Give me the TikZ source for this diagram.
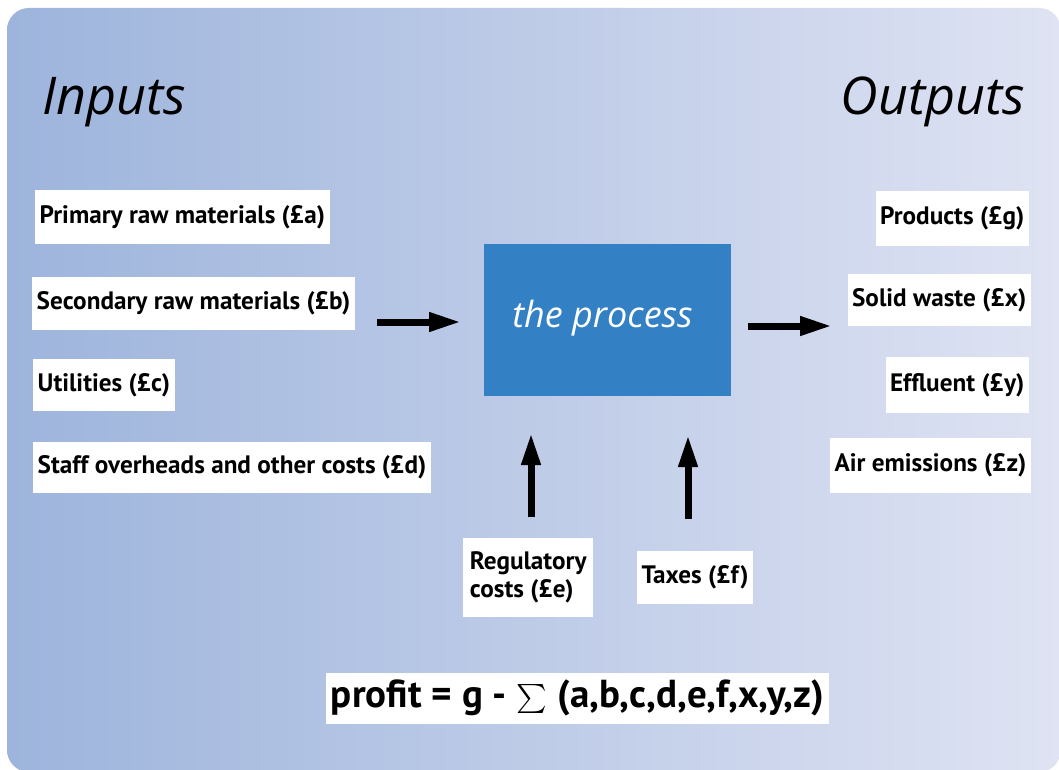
\documentclass[tikz,border=0pt]{standalone}
\usepackage{fontspec}
\setmainfont{PT Sans}
\newfontfamily\headfont{Open Sans}
\usetikzlibrary{positioning}
\usetikzlibrary{calc}
\usetikzlibrary{arrows.meta}

\definecolor{bgleft}{RGB}{157,180,220}
\definecolor{bgright}{RGB}{223,227,243}
\definecolor{procblue}{RGB}{51,129,196}

\begin{document}
\begin{tikzpicture}[x=1pt,y=-1pt,
  costbox/.style={fill=white,inner xsep=4.5pt,inner ysep=0pt,font=\fontsize{25.2}{28}\selectfont\bfseries},
  heading/.style={inner sep=0pt,font=\headfont\itshape\fontsize{52}{60}\selectfont},
  fat/.style={line width=7pt,-{Triangle[length=32pt,width=18pt]}}]
\useasboundingbox (0,0) rectangle (1059,770);
\fill[white] (0,0) rectangle (1059,770);
\shade[left color=bgleft,right color=bgright,rounded corners=22pt] (7,8) rectangle (1061,772);

\node[heading,anchor=base west](inputs) at (42,115){Inputs};
\node[heading,anchor=base east](outputs) at (1025,115){Outputs};

% inputs
\node[costbox,anchor=west,minimum height=54pt](prim) at (35,217){Primary raw materials (£a)};
\node[costbox,anchor=west,minimum height=53pt](sec) at (32,303.5){Secondary raw materials (£b)};
\node[costbox,anchor=west,minimum height=52pt](util) at (33,385){Utilities (£c)};
\node[costbox,anchor=west,minimum height=51pt](staff) at (33,467.5){Staff overheads and other costs (£d)};

% outputs
\node[costbox,anchor=east,minimum height=55pt](prod) at (1029,218.5){Products (£g)};
\node[costbox,anchor=east,minimum height=52pt](solid) at (1031,300){Solid waste (£x)};
\node[costbox,anchor=east,minimum height=56pt](effl) at (1029,385){Effluent (£y)};
\node[costbox,anchor=east,minimum height=55pt](air) at (1031,465.5){Air emissions (£z)};

\node[fill=procblue,minimum width=247pt,minimum height=152pt,inner sep=0pt](proc) at (607.5,320){};
\node[text=white,inner sep=0pt,font=\headfont\itshape\fontsize{36}{42}\selectfont](proctext) at (602.5,318){the process};

\node[costbox,anchor=west,align=left,minimum height=79pt,minimum width=130pt](reg) at (463,577.5){Regulatory\\costs (£e)};
\node[costbox,minimum height=53pt,minimum width=116pt](tax) at (695,577.5){Taxes (£f)};

\node[costbox,font=\fontsize{39}{48}\selectfont\bfseries,minimum height=51pt](profit) at (577.5,698.5)
  {profit = g - \raisebox{-9pt}{\scalebox{2.9}{$\sum$}} (a,b,c,d,e,f,x,y,z)};

\coordinate (inS) at (377,322);
\coordinate (inE) at (461,322);
\coordinate (outS) at (748,326);
\coordinate (outE) at (832,326);
\coordinate (regS) at (531,517);
\coordinate (regE) at (531,433);
\coordinate (taxS) at (688,519);
\coordinate (taxE) at (688,435);

\path
(inS) edge[fat] (inE)
(outS) edge[fat] (outE)
(regS) edge[fat] (regE)
(taxS) edge[fat] (taxE);
\end{tikzpicture}
\end{document}
